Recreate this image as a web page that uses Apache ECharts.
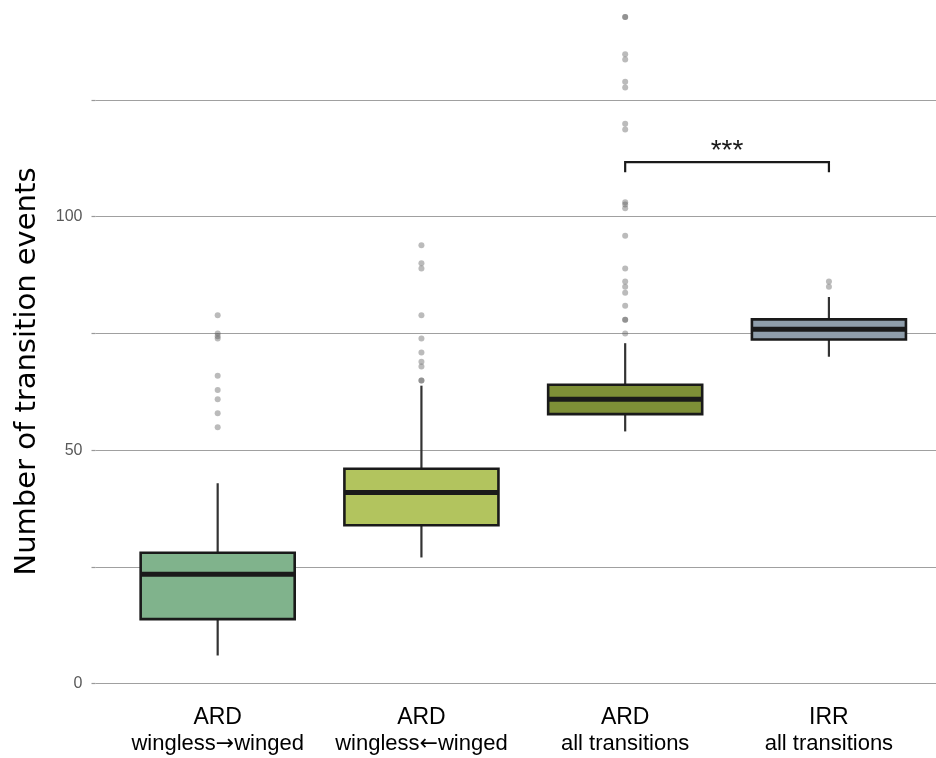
<!DOCTYPE html>
<html>
<head>
<meta charset="utf-8">
<script src="https://cdn.jsdelivr.net/npm/echarts@6/dist/echarts.min.js"></script>
<style>html,body{margin:0;padding:0;background:#fff;}#c{width:936px;height:758px;}</style>
</head>
<body>
<div id="c"></div>
<script>
// ---- data ----
const modelNames = ['ARD', 'ARD', 'ARD', 'IRR'];
const transitionNames = ['wingless\u2192winged', 'wingless\u2190winged', 'all transitions', 'all transitions'];
// [min whisker, Q1, median, Q3, max whisker]
const boxStats = [
  [6, 13.8, 23.4, 28, 42.9],
  [27, 33.9, 40.9, 46, 63.8],
  [54, 57.7, 60.9, 64, 72.9],
  [70, 73.7, 75.9, 78, 82.8]
];
const outliers1 = [78.9, 75, 74.4, 73.9, 65.9, 62.9, 60.9, 57.9, 54.9];
const outliers2 = [93.9, 90, 88.9, 78.9, 73.9, 70.9, 68.9, 67.9, 64.9, 64.9];
const outliers3 = [142.8, 142.8, 134.8, 133.7, 128.9, 127.7, 119.9, 118.7, 103.1, 102.6, 101.8, 95.9, 88.9, 86.1, 85, 83.7, 80.9, 77.9, 77.9, 75];
const outliers4 = [86.1, 85];
const boxColors = ['#80b38c', '#b2c45e', '#7e8f37', '#8f9eab'];
const yTicks = [0, 25, 50, 75, 100, 125];
const yLabelTicks = [0, 50, 100];
const sigFrom = 2, sigTo = 3, sigY = 111.7, sigTipY = 109.5, sigLabel = '***';

// ---- build series data ----
const boxData = boxStats.map((s, i) => [i].concat(s));
const outlierData = [];
[outliers1, outliers2, outliers3, outliers4].forEach((arr, i) => arr.forEach(v => outlierData.push([i, v])));
const categories = modelNames.map((m, i) => m + '|' + transitionNames[i]);

const sans = "'Liberation Sans', Arial, sans-serif";

const chart = echarts.init(document.getElementById('c'), null, {renderer: 'canvas'});
chart.setOption({
  animation: false,
  backgroundColor: '#ffffff',
  grid: [
    {left: 115.8, right: 5.2, top: 0, bottom: 74.5},
    {left: 95.5, right: -20, top: 59.5, bottom: 74.5}
  ],
  xAxis: [
    {
      type: 'category', gridIndex: 0, data: categories,
      axisLine: {show: false}, axisTick: {show: false}, splitLine: {show: false},
      axisLabel: {
        margin: 21, interval: 0, hideOverlap: false,
        formatter: function (v) {
          const p = v.split('|');
          const sub = p[1].replace(/([\u2190\u2192])/, '}{arr|$1}{b|');
          return '{a|' + p[0] + '}\n{b|' + sub + '}';
        },
        rich: {
          a: {fontFamily: sans, fontSize: 23, color: '#000', lineHeight: 26},
          b: {fontFamily: sans, fontSize: 22, color: '#000', lineHeight: 26},
          arr: {fontFamily: "'DejaVu Sans', sans-serif", fontSize: 22, color: '#000', lineHeight: 26, padding: [2, 0, 0, 0]}
        }
      }
    },
    {type: 'value', gridIndex: 1, show: false, min: 0, max: 1}
  ],
  yAxis: [
    {type: 'value', gridIndex: 0, min: 0, max: 146.42, show: false},
    {
      type: 'value', gridIndex: 1, min: 0, max: 133.68, interval: 25,
      name: 'Number of transition events',
      nameLocation: 'middle', nameGap: 54, nameRotate: 90,
      nameTextStyle: {fontFamily: "'DejaVu Sans', sans-serif", fontSize: 29, color: '#000'},
      axisLine: {show: false},
      axisTick: {show: true, length: 4, customValues: yTicks, lineStyle: {color: '#999', width: 1.2}},
      axisLabel: {
        customValues: yLabelTicks, margin: 13,
        fontFamily: sans, fontSize: 16, color: '#595959'
      },
      splitLine: {show: true, lineStyle: {color: '#a0a0a0', width: 1.2}}
    }
  ],
  series: [
    {
      type: 'scatter', xAxisIndex: 0, yAxisIndex: 0,
      data: outlierData, symbolSize: 6,
      itemStyle: {color: 'rgba(85,85,85,0.5)'},
      z: 3
    },
    {
      type: 'custom', xAxisIndex: 0, yAxisIndex: 0,
      data: boxData,
      encode: {x: 0, y: [1, 2, 3, 4, 5]},
      z: 4,
      renderItem: function (params, api) {
        const x = api.value(0);
        const pMin = api.coord([x, api.value(1)]);
        const pQ1 = api.coord([x, api.value(2)]);
        const pMed = api.coord([x, api.value(3)]);
        const pQ3 = api.coord([x, api.value(4)]);
        const pMax = api.coord([x, api.value(5)]);
        const bw = api.size([1, 0])[0] * 0.756;
        const cx = pMed[0];
        return {
          type: 'group',
          children: [
            {type: 'line', shape: {x1: cx, y1: pQ3[1], x2: cx, y2: pMax[1]}, style: {stroke: '#333333', lineWidth: 2.2}},
            {type: 'line', shape: {x1: cx, y1: pQ1[1], x2: cx, y2: pMin[1]}, style: {stroke: '#333333', lineWidth: 2.2}},
            {type: 'rect', shape: {x: cx - bw / 2, y: pQ3[1], width: bw, height: pQ1[1] - pQ3[1]},
              style: {fill: boxColors[params.dataIndex], stroke: '#1a1a1a', lineWidth: 2.6}},
            {type: 'line', shape: {x1: cx - bw / 2, y1: pMed[1], x2: cx + bw / 2, y2: pMed[1]}, style: {stroke: '#1a1a1a', lineWidth: 5}}
          ]
        };
      }
    },
    {
      type: 'custom', xAxisIndex: 0, yAxisIndex: 0,
      data: [[sigFrom, sigTo, sigY, sigTipY]],
      z: 5,
      renderItem: function (params, api) {
        const a = api.coord([api.value(0), api.value(2)]);
        const b = api.coord([api.value(1), api.value(2)]);
        const tA = api.coord([api.value(0), api.value(3)]);
        const tB = api.coord([api.value(1), api.value(3)]);
        return {
          type: 'group',
          children: [
            {type: 'polyline', shape: {points: [[tA[0], tA[1]], [a[0], a[1]], [b[0], b[1]], [tB[0], tB[1]]]},
              style: {stroke: '#1a1a1a', lineWidth: 2.2, fill: null}},
            {type: 'text', x: (a[0] + b[0]) / 2, y: a[1] - 11,
              style: {text: sigLabel, fontFamily: sans, fontSize: 28, fill: '#1a1a1a',
                align: 'center', verticalAlign: 'middle'}}
          ]
        };
      }
    }
  ]
});
</script>
</body>
</html>
